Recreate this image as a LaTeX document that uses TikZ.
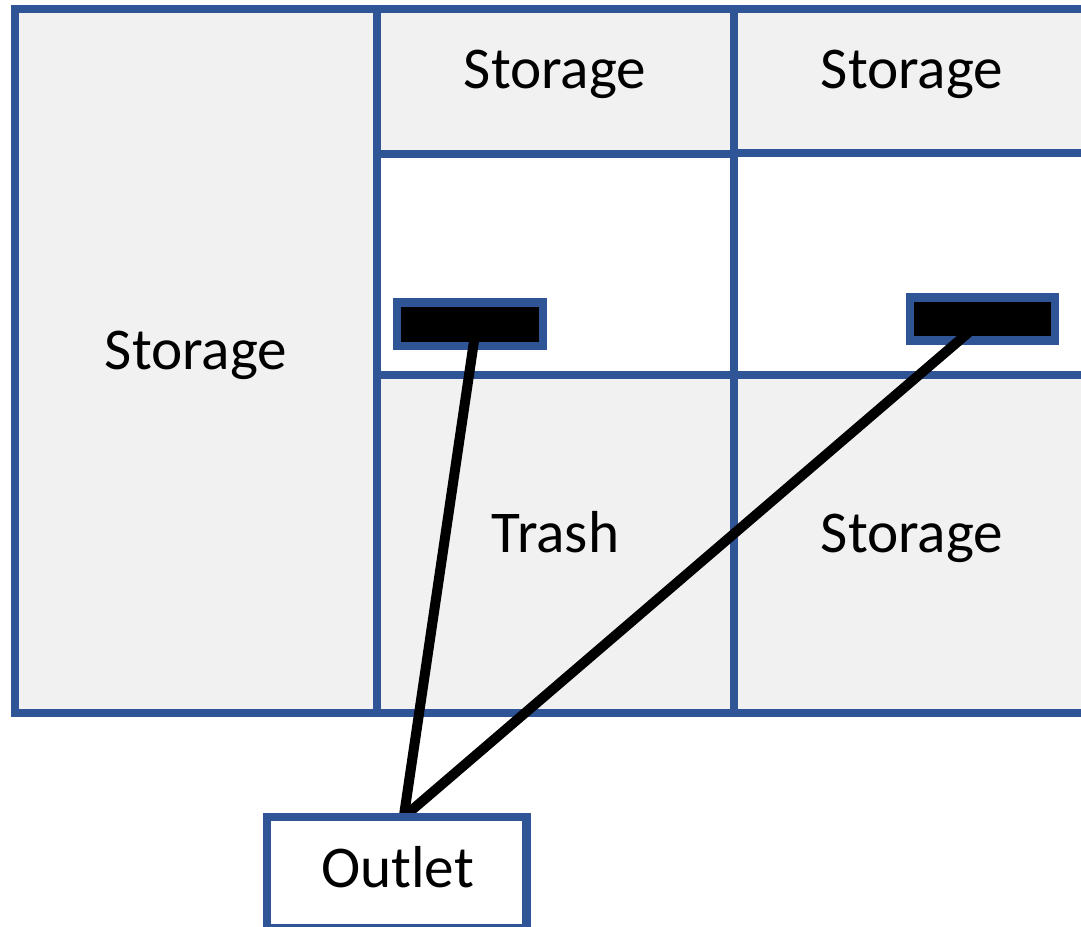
\documentclass[tikz,border=0pt]{standalone}
\usepackage{fontspec}
\setmainfont{Carlito}
\definecolor{wall}{HTML}{2F5597}
\definecolor{floor}{HTML}{F1F1F1}
\pgfdeclarelayer{front}
\pgfsetlayers{main,front}
\tikzset{
  room/.style = {draw = wall, line width = .17cm, inner sep = 0, outer sep = 0},
  shaded room/.style = {room, fill = floor},
  sensor/.style = {room, fill = black},
  wire/.style = {draw = black, line width = .2cm},
  tag/.style = {anchor = base, inner sep = 0, font = \fontsize{33.7}{40}\selectfont}
}
\begin{document}
  \begin{tikzpicture}[x = .02cm, y = -.02cm]
    \useasboundingbox (0,0) rectangle (1081,926);
    \node [shaded room, minimum width = 7.24cm, minimum height = 14.08cm] (left) at (196,361) {};
    \node [shaded room, minimum width = 7.14cm, minimum height = 2.9cm] (topa) at (555.5,81.5) {};
    \node [shaded room, minimum width = 7.12cm, minimum height = 2.88cm] (topb) at (912,81) {};
    \node [room, fill = white, minimum width = 7.14cm, minimum height = 4.42cm] (mida) at (555.5,264.5) {};
    \node [room, fill = white, minimum width = 7.12cm, minimum height = 4.44cm] (midb) at (912,264) {};
    \node [shaded room, minimum width = 7.14cm, minimum height = 6.76cm] (lowa) at (555.5,544) {};
    \node [shaded room, minimum width = 7.12cm, minimum height = 6.76cm] (lowb) at (912,544) {};
    \node [sensor, minimum width = 2.92cm, minimum height = .87cm] (sensora) at (470,324) {};
    \node [sensor, minimum width = 2.9cm, minimum height = .86cm] (sensorb) at (982.5,319) {};
    \begin{pgfonlayer}{front}
      \node [room, fill = white, minimum width = 5.19cm, minimum height = 2.22cm] (outlet) at (396.75,872.5) {};
    \end{pgfonlayer}
    \foreach \n/\x/\y/\t in {lefttag/196/369/Storage, topatag/555/89/Storage, topbtag/912/89/Storage,
                             lowatag/555.5/552/Trash, lowbtag/912/552/Storage}
      \node [tag] (\n) at (\x,\y) {\t};
    \begin{pgfonlayer}{front}
      \node [tag] (outlettag) at (397.5,887) {Outlet};
    \end{pgfonlayer}
    \draw [wire] ([xshift = .09cm, yshift = .16cm]sensora.south) -- ([xshift = .14cm]outlet.north);
    \draw [wire] ([xshift = -.28cm, yshift = .16cm]sensorb.south) -- ([xshift = .14cm]outlet.north);
  \end{tikzpicture}
\end{document}
